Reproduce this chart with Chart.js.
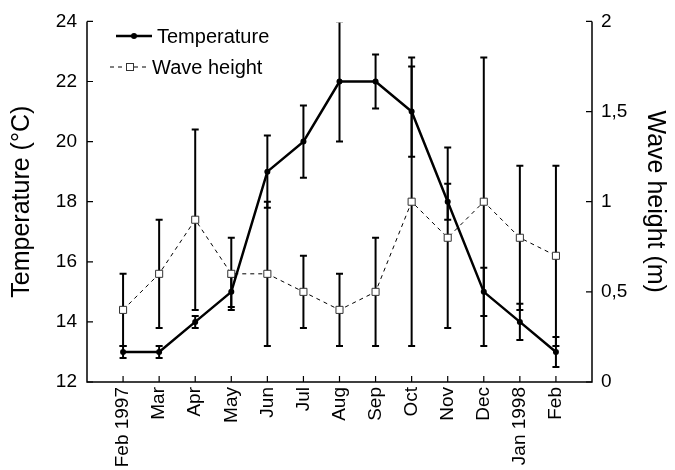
<!DOCTYPE html>
<html>
<head>
<meta charset="utf-8">
<script src="https://cdn.jsdelivr.net/npm/chart.js@4.4.1/dist/chart.umd.min.js"></script>
<style>
  html, body { margin: 0; padding: 0; background: #fff; }
  #wrap { width: 675px; height: 470px; }
</style>
</head>
<body>
<div id="wrap"><canvas id="c" width="675" height="470"></canvas></div>
<script>
const months = ['Feb 1997', 'Mar', 'Apr', 'May', 'Jun', 'Jul', 'Aug', 'Sep', 'Oct', 'Nov', 'Dec', 'Jan 1998', 'Feb'];
const temperature = [13, 13, 14, 15, 19, 20, 22, 22, 21, 18, 15, 14, 13];
const temperatureErr = [0.2, 0.2, 0.2, 0.5, 1.2, 1.2, 2, 0.9, 1.5, 0.6, 0.8, 0.6, 0.5];
const waveHeight = [0.4, 0.6, 0.9, 0.6, 0.6, 0.5, 0.4, 0.5, 1.0, 0.8, 1.0, 0.8, 0.7];
const waveErr = [0.2, 0.3, 0.5, 0.2, 0.4, 0.2, 0.2, 0.3, 0.8, 0.5, 0.8, 0.4, 0.5];
const tempTicks = [12, 14, 16, 18, 20, 22, 24];
const waveTicks = [0, 0.5, 1, 1.5, 2];
const waveTickLabels = ['0', '0,5', '1', '1,5', '2'];

const FONT = '"Liberation Sans", Arial, sans-serif';

const customDraw = {
  id: 'customDraw',
  beforeDatasetsDraw(chart) {
    const ctx = chart.ctx;
    const xs = chart.scales.x;
    const area = chart.chartArea;
    ctx.save();
    ctx.beginPath();
    ctx.rect(area.left - 10, area.top + 1, area.right - area.left + 20, area.bottom - area.top);
    ctx.clip();
    ctx.strokeStyle = '#000';
    ctx.lineWidth = 2;
    const bars = [
      { vals: waveHeight, errs: waveErr, scale: chart.scales.y1 },
      { vals: temperature, errs: temperatureErr, scale: chart.scales.y }
    ];
    bars.forEach(b => {
      b.vals.forEach((v, i) => {
        const x = xs.getPixelForValue(i);
        const yt = b.scale.getPixelForValue(v + b.errs[i]);
        const yb = b.scale.getPixelForValue(v - b.errs[i]);
        ctx.beginPath();
        ctx.moveTo(x, yt); ctx.lineTo(x, yb);
        ctx.moveTo(x - 3.5, yt); ctx.lineTo(x + 3.5, yt);
        ctx.moveTo(x - 3.5, yb); ctx.lineTo(x + 3.5, yb);
        ctx.stroke();
      });
    });
    ctx.restore();
  },
  afterDraw(chart) {
    const ctx = chart.ctx;
    const xs = chart.scales.x, yl = chart.scales.y, yr = chart.scales.y1;
    const a = chart.chartArea;
    ctx.save();
    ctx.strokeStyle = '#000';
    ctx.lineWidth = 1.5;
    ctx.beginPath();
    ctx.moveTo(a.left, a.top); ctx.lineTo(a.left, a.bottom); ctx.lineTo(a.right, a.bottom); ctx.lineTo(a.right, a.top);
    ctx.stroke();
    ctx.lineWidth = 1.2;
    ctx.beginPath();
    tempTicks.forEach(t => { const y = yl.getPixelForValue(t); ctx.moveTo(a.left, y); ctx.lineTo(a.left + 6, y); });
    waveTicks.forEach(t => { const y = yr.getPixelForValue(t); ctx.moveTo(a.right, y); ctx.lineTo(a.right - 6, y); });
    months.forEach((m, i) => { const x = xs.getPixelForValue(i); ctx.moveTo(x, a.bottom); ctx.lineTo(x, a.bottom - 6); });
    ctx.stroke();

    // legend
    const ds0 = chart.data.datasets[0], ds1 = chart.data.datasets[1];
    ctx.font = '20px ' + FONT;
    ctx.fillStyle = '#000';
    ctx.textBaseline = 'middle';
    ctx.lineWidth = ds0.borderWidth;
    ctx.strokeStyle = ds0.borderColor;
    ctx.setLineDash([]);
    ctx.beginPath(); ctx.moveTo(116, 36); ctx.lineTo(152, 36); ctx.stroke();
    ctx.beginPath(); ctx.arc(134, 36, ds0.pointRadius, 0, Math.PI * 2); ctx.fillStyle = ds0.pointBackgroundColor; ctx.fill();
    ctx.fillStyle = '#000';
    ctx.fillText(ds0.label, 157, 37);
    ctx.lineWidth = ds1.borderWidth;
    ctx.strokeStyle = ds1.borderColor;
    ctx.setLineDash(ds1.borderDash);
    ctx.beginPath(); ctx.moveTo(110, 67); ctx.lineTo(125, 67); ctx.moveTo(134, 67); ctx.lineTo(150, 67); ctx.stroke();
    ctx.setLineDash([]);
    ctx.fillStyle = '#fff';
    ctx.fillRect(126, 63, 7, 7);
    ctx.strokeStyle = ds1.pointBorderColor;
    ctx.lineWidth = 1;
    ctx.strokeRect(126.5, 63.5, 7, 7);
    ctx.fillStyle = '#000';
    ctx.fillText(ds1.label, 152, 68);
    ctx.restore();
  }
};

new Chart(document.getElementById('c'), {
  type: 'line',
  data: {
    datasets: [
      {
        label: 'Temperature',
        data: temperature.map((v, i) => ({ x: i, y: v })),
        yAxisID: 'y',
        borderColor: '#000',
        borderWidth: 2.5,
        pointRadius: 3,
        pointBackgroundColor: '#000',
        pointBorderColor: '#000',
        pointBorderWidth: 0,
        tension: 0,
        order: 1
      },
      {
        label: 'Wave height',
        data: waveHeight.map((v, i) => ({ x: i, y: v })),
        yAxisID: 'y1',
        borderColor: '#000',
        borderWidth: 1,
        borderDash: [4, 4],
        pointStyle: 'rect',
        pointRadius: 5,
        pointBackgroundColor: '#fff',
        pointBorderColor: '#333',
        pointBorderWidth: 1,
        tension: 0,
        order: 2
      }
    ]
  },
  options: {
    responsive: false,
    animation: false,
    devicePixelRatio: 1,
    layout: { padding: { top: 19, left: 0, right: 0, bottom: 0 } },
    plugins: { legend: { display: false }, tooltip: { enabled: false } },
    scales: {
      x: {
        type: 'linear',
        min: -1,
        max: 13,
        position: 'bottom',
        grid: { display: false, drawTicks: false },
        border: { display: false },
        afterBuildTicks: s => { s.ticks = months.map((m, i) => ({ value: i })); },
        afterFit: s => { s.height = 88; },
        ticks: {
          autoSkip: false,
          minRotation: 90,
          maxRotation: 90,
          padding: 5,
          color: '#000',
          font: { size: 19, family: FONT },
          callback: v => months[v]
        }
      },
      y: {
        type: 'linear',
        position: 'left',
        min: 12,
        max: 24,
        grid: { display: false, drawTicks: false },
        border: { display: false },
        afterBuildTicks: s => { s.ticks = tempTicks.map(v => ({ value: v })); },
        afterFit: s => { s.width = 87; },
        ticks: { padding: 10, color: '#000', font: { size: 19, family: FONT } },
        title: { display: true, text: 'Temperature (°C)', color: '#000', font: { size: 25, family: FONT }, padding: { top: 7, bottom: 0 } }
      },
      y1: {
        type: 'linear',
        position: 'right',
        min: 0,
        max: 2,
        grid: { display: false, drawTicks: false },
        border: { display: false },
        afterBuildTicks: s => { s.ticks = waveTicks.map(v => ({ value: v })); },
        afterFit: s => { s.width = 83; },
        ticks: { padding: 9, color: '#000', font: { size: 19, family: FONT }, callback: (v) => waveTickLabels[waveTicks.indexOf(v)] },
        title: { display: true, text: 'Wave height (m)', color: '#000', font: { size: 25, family: FONT }, padding: { top: 5, bottom: 0 } }
      }
    }
  },
  plugins: [customDraw]
});
</script>
</body>
</html>
